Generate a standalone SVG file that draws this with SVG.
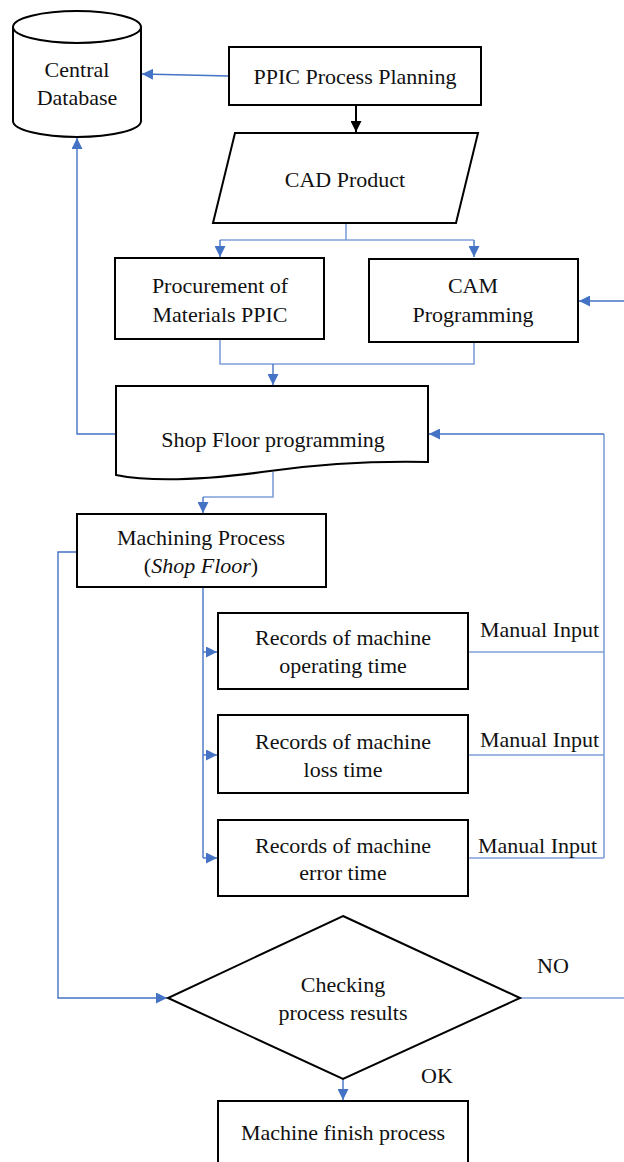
<svg xmlns="http://www.w3.org/2000/svg" width="624" height="1162" viewBox="0 0 624 1162">
  <style>
    .box { fill: #fff; stroke: #000; stroke-width: 2; }
    .rim { fill: none; stroke: #000; stroke-width: 2; }
    .t { font-family: "Liberation Serif", "Times New Roman", serif; font-size: 22px; fill: #111; text-anchor: middle; }
    .tl { font-family: "Liberation Serif", "Times New Roman", serif; font-size: 22px; fill: #111; }
    .c { fill: none; stroke: #4472C4; stroke-width: 1.4; }
    .cl { fill: none; stroke: #7F9FD9; stroke-width: 1.6; }
  </style>
  <defs>
    <marker id="ab" viewBox="0 0 10 10" refX="10" refY="5" markerWidth="11" markerHeight="11" markerUnits="userSpaceOnUse" orient="auto">
      <path d="M0,0 L10,5 L0,10 Z" fill="#4472C4"/>
    </marker>
    <marker id="ak" viewBox="0 0 10 10" refX="10" refY="5" markerWidth="11" markerHeight="11" markerUnits="userSpaceOnUse" orient="auto">
      <path d="M0,0 L10,5 L0,10 Z" fill="#000"/>
    </marker>
  </defs>

  <!-- connectors -->
  <g id="connectors">
    <path class="c" d="M229,76 L142,74" marker-end="url(#ab)"/>
    <path d="M356,105 V132" stroke="#000" stroke-width="2" fill="none" marker-end="url(#ak)"/>
    <path class="cl" d="M346,223 V240"/>
    <path class="cl" d="M220,240 H474"/>
    <path class="c" d="M220,240 V257" marker-end="url(#ab)"/>
    <path class="c" d="M474,240 V257" marker-end="url(#ab)"/>
    <path class="c" d="M624,301 H579" marker-end="url(#ab)"/>
    <path class="cl" d="M220,340 V364 H474 V342"/>
    <path class="c" d="M273,364 V385" marker-end="url(#ab)"/>
    <path class="c" d="M116,434 H77 V138" marker-end="url(#ab)"/>
    <path class="cl" d="M604,858 V434"/>
    <path class="c" d="M604,434 H429" marker-end="url(#ab)"/>
    <path class="cl" d="M273,472 V497 H203"/>
    <path class="c" d="M203,497 V513" marker-end="url(#ab)"/>
    <path class="c" d="M77,552 H58 V998 H167" marker-end="url(#ab)"/>
    <path class="c" d="M203,587 V858"/>
    <path class="c" d="M203,652 H217" marker-end="url(#ab)"/>
    <path class="c" d="M203,755 H217" marker-end="url(#ab)"/>
    <path class="c" d="M203,858 H217" marker-end="url(#ab)"/>
    <path class="cl" d="M468,652 H604"/>
    <path class="cl" d="M468,755 H604"/>
    <path class="cl" d="M468,858 H604"/>
    <path class="cl" d="M520,998 H624"/>
    <path class="c" d="M343,1079 V1100" marker-end="url(#ab)"/>
  </g>

  <g id="central-database">
    <path class="box" d="M13,27 V121 A64,16 0 0 0 141,121 V27 A64,16 0 0 0 13,27 Z"/>
    <path class="rim" d="M13,27 A64,16 0 0 0 141,27"/>
    <text class="t" x="77" y="77">Central</text>
    <text class="t" x="77" y="105">Database</text>
  </g>

  <g id="ppic-planning">
    <rect class="box" x="229" y="47" width="252" height="58"/>
    <text class="t" x="355" y="84">PPIC Process Planning</text>
  </g>

  <g id="cad-product">
    <polygon class="box" points="235,133 478,133 456,223 213,223"/>
    <text class="t" x="345" y="187">CAD Product</text>
  </g>

  <g id="procurement">
    <rect class="box" x="115" y="258" width="209" height="81"/>
    <text class="t" x="220" y="293">Procurement of</text>
    <text class="t" x="220" y="322">Materials PPIC</text>
  </g>

  <g id="cam-programming">
    <rect class="box" x="369" y="259" width="209" height="83"/>
    <text class="t" x="473" y="293">CAM</text>
    <text class="t" x="473" y="322">Programming</text>
  </g>

  <g id="shop-floor-programming">
    <path class="box" d="M116,386 H428 V462 C380,461 320,464 270,471 C220,478 160,484 116,475 Z"/>
    <text class="t" x="273" y="447">Shop Floor programming</text>
  </g>

  <g id="machining-process">
    <rect class="box" x="77" y="514" width="249" height="73"/>
    <text class="t" x="201" y="545">Machining Process</text>
    <text class="t" x="201" y="573">(<tspan font-style="italic">Shop Floor</tspan>)</text>
  </g>

  <g id="records-operating">
    <rect class="box" x="218" y="613" width="250" height="76"/>
    <text class="t" x="343" y="645">Records of machine</text>
    <text class="t" x="343" y="673">operating time</text>
    <text class="tl" x="480" y="637">Manual Input</text>
  </g>

  <g id="records-loss">
    <rect class="box" x="218" y="715" width="250" height="78"/>
    <text class="t" x="343" y="749">Records of machine</text>
    <text class="t" x="343" y="777">loss time</text>
    <text class="tl" x="480" y="747">Manual Input</text>
  </g>

  <g id="records-error">
    <rect class="box" x="218" y="820" width="250" height="76"/>
    <text class="t" x="343" y="853">Records of machine</text>
    <text class="t" x="343" y="880">error time</text>
    <text class="tl" x="478" y="853">Manual Input</text>
  </g>

  <g id="checking">
    <polygon class="box" points="343,916 520,998 343,1079 168,998"/>
    <text class="t" x="343" y="992">Checking</text>
    <text class="t" x="343" y="1020">process results</text>
    <text class="t" x="553" y="973">NO</text>
    <text class="t" x="437" y="1083">OK</text>
  </g>

  <g id="machine-finish">
    <rect class="box" x="218" y="1101" width="250" height="70"/>
    <text class="t" x="343" y="1140">Machine finish process</text>
  </g>
</svg>
